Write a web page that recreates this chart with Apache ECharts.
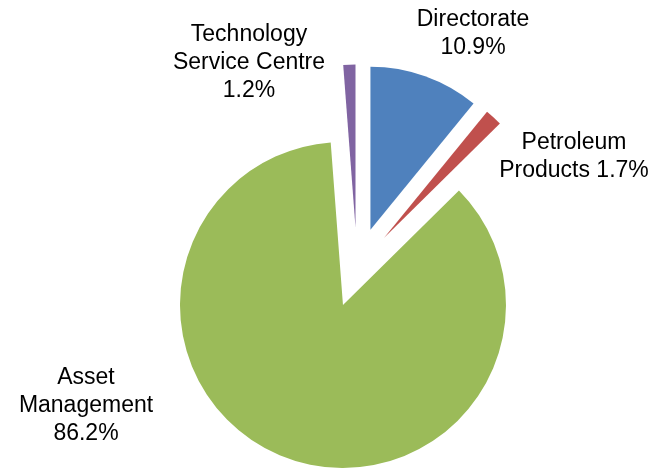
<!DOCTYPE html>
<html>
<head>
<meta charset="utf-8">
<script src="https://cdn.jsdelivr.net/npm/echarts@6/dist/echarts.min.js"></script>
<style>
  html, body { margin: 0; padding: 0; background: #ffffff; }
  #chart { width: 666px; height: 468px; }
</style>
</head>
<body>
<div id="chart"></div>
<script>
// Share of budget by division (percent)
const categories = ['Directorate', 'Petroleum Products', 'Asset Management', 'Technology Service Centre'];
const values = [10.9, 1.7, 86.2, 1.2];
// Wrapped label captions, one per category
const captions = ['Directorate', 'Petroleum\nProducts', 'Asset\nManagement', 'Technology\nService Centre'];
const valueOnOwnLine = [true, false, true, true];

const colors = ['#4F81BD', '#C0504D', '#9BBB59', '#8064A2'];
// Label anchor points (centre of each text block), in pixels
const labelAnchors = [[473, 34], [574, 157], [86, 406], [249, 63]];

const chart = echarts.init(document.getElementById('chart'), null, { renderer: 'canvas' });

const data = categories.map((name, i) => ({
  name: name,
  value: values[i],
  selected: true,
  itemStyle: { color: colors[i] }
}));

function labelText(i) {
  const pct = values[i].toFixed(1) + '%';
  return captions[i] + (valueOnOwnLine[i] ? '\n' : ' ') + pct;
}

chart.setOption({
  animation: false,
  backgroundColor: '#ffffff',
  series: [{
    type: 'pie',
    center: [357, 267.5],
    radius: [0, 163],
    startAngle: 90,
    clockwise: true,
    selectedMode: 'multiple',
    selectedOffset: 40,
    emphasis: { disabled: true },
    itemStyle: { borderWidth: 0 },
    label: { show: false },
    labelLine: { show: false },
    data: data
  }],
  // Data labels placed beside each exploded slice
  graphic: categories.map((name, i) => ({
    type: 'text',
    x: labelAnchors[i][0],
    y: labelAnchors[i][1],
    silent: true,
    style: {
      text: labelText(i),
      fill: '#000000',
      font: '23px "Liberation Sans", Arial, sans-serif',
      lineHeight: 28,
      align: 'center',
      verticalAlign: 'middle'
    }
  }))
});
</script>
</body>
</html>
